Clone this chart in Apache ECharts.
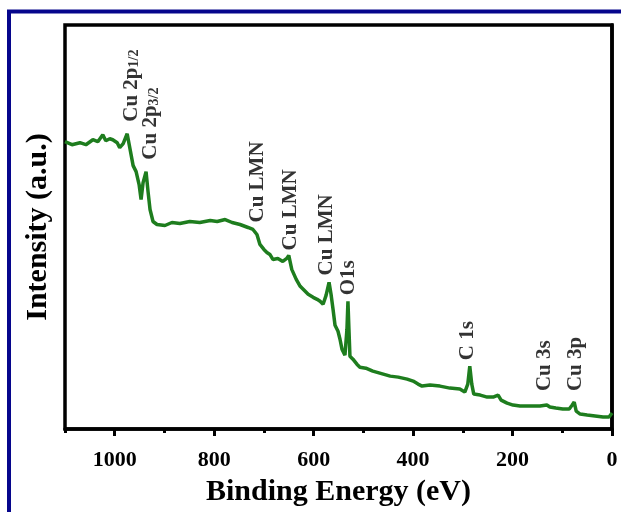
<!DOCTYPE html>
<html>
<head>
<meta charset="utf-8">
<script src="https://cdn.jsdelivr.net/npm/echarts@6/dist/echarts.min.js"></script>
<style>
  html, body { margin: 0; padding: 0; background: #fff; }
  #chart { width: 621px; height: 512px; }
</style>
</head>
<body>
<div id="chart"></div>
<script>
// binding energy (eV) and intensity (a.u.)
const energy = [1100, 1086, 1070, 1058, 1044, 1034, 1024, 1018, 1010, 1004, 995, 990, 983, 975, 969, 963, 957, 951, 947, 943,
  937, 933, 929, 923, 915, 899, 885, 869, 849, 829, 808, 794, 778, 764, 748, 732, 722, 714, 708, 700,
  694, 688, 682, 672, 662, 654, 650, 644, 635, 627, 619, 611, 601, 593, 587, 581, 575, 569, 565, 561,
  557, 551, 547, 543, 537, 533, 531, 529, 527, 521, 513, 507, 495, 481, 467, 446, 430, 412, 400, 390,
  382, 366, 346, 326, 306, 296, 290, 286, 282, 278, 265, 251, 239, 229, 223, 211, 199, 185, 165, 145,
  131, 125, 113, 99, 86, 80, 76, 72, 64, 50, 34, 18, 6, 0];
const intensity = [288, 285, 287, 285, 290, 288, 295, 289, 291, 290, 287, 282, 286, 296, 280, 264, 258, 245, 230, 247,
  258, 238, 220, 208, 205, 204, 207, 206, 208, 207, 209, 208, 210, 207, 205, 202, 200, 195, 185, 180,
  177, 175, 170, 171, 168, 171, 174, 160, 150, 143, 139, 135, 132, 130, 128, 125, 134, 147, 135, 120,
  104, 98, 90, 80, 74, 100, 128, 100, 73, 70, 65, 62, 61, 58, 56, 53, 52, 50, 48, 45,
  43, 44, 43, 41, 40, 37, 45, 63, 45, 35, 34, 32, 32, 34, 29, 26, 24, 23, 23, 23,
  24, 22, 21, 20, 20, 24, 27, 18, 15, 14, 13, 12, 12, 16];

// peak assignments: name, energy and height of the bottom of each label
const peakNames = ['Cu 2p{s|1/2}', 'Cu 2p{s|3/2}', 'Cu LMN', 'Cu LMN', 'Cu LMN', 'O1s', 'C 1s', 'Cu 3s', 'Cu 3p'];
const peakEnergy = [967, 927, 712, 646, 573, 529, 290, 135, 74];
const peakLabelY = [308, 270, 207, 179, 154, 134, 69, 38, 38];

const xMajorTicks = 200;
const xMinorTicks = 100;

const font = 'Liberation Serif';

const chart = echarts.init(document.getElementById('chart'));

const lineData = energy.map((e, i) => [e, intensity[i]]);
const labelData = peakNames.map((n, i) => ({ name: n, value: [peakEnergy[i], peakLabelY[i]] }));

chart.setOption({
  animation: false,
  backgroundColor: '#fff',
  graphic: [{
    type: 'polyline',
    shape: { points: [[9, 512], [9, 11.5], [621, 11.5]] },
    style: { stroke: '#06068c', lineWidth: 4, fill: null }
  }],
  grid: {
    left: 65, right: 9, top: 25, bottom: 82,
    show: true, borderColor: '#000', borderWidth: 3.5
  },
  xAxis: [{
    type: 'value',
    inverse: true,
    min: 0, max: 1100, interval: xMajorTicks,
    position: 'bottom',
    name: 'Binding Energy (eV)',
    nameLocation: 'middle',
    nameGap: 48,
    nameTextStyle: { fontFamily: font, fontWeight: 'bold', fontSize: 30, color: '#000' },
    axisLine: { show: true, lineStyle: { color: '#000', width: 3.5 } },
    axisTick: { show: true, length: 7, lineStyle: { color: '#000', width: 3 } },
    axisLabel: {
      fontFamily: font, fontWeight: 'bold', fontSize: 22, color: '#000', margin: 20,
      showMaxLabel: false, formatter: v => String(v)
    },
    splitLine: { show: false }
  }, {
    type: 'value',
    inverse: true,
    min: 0, max: 1100, interval: xMinorTicks,
    position: 'bottom',
    axisLine: { show: false },
    axisTick: { show: true, length: 4, lineStyle: { color: '#000', width: 3 } },
    axisLabel: { show: false },
    splitLine: { show: false }
  }],
  yAxis: {
    type: 'value',
    min: 0, max: 405,
    name: 'Intensity (a.u.)',
    nameLocation: 'middle',
    nameGap: 12,
    nameTextStyle: { fontFamily: font, fontWeight: 'bold', fontSize: 30, color: '#000' },
    axisLine: { show: true, lineStyle: { color: '#000', width: 3.5 } },
    axisTick: { show: false },
    axisLabel: { show: false },
    splitLine: { show: false }
  },
  series: [{
    type: 'line',
    data: lineData,
    showSymbol: false,
    lineStyle: { color: '#1e7d1e', width: 3.5 },
    z: 3
  }, {
    type: 'scatter',
    data: labelData,
    symbolSize: 0,
    silent: true,
    label: {
      show: true,
      formatter: p => p.name,
      position: 'inside',
      rotate: 90,
      align: 'left',
      verticalAlign: 'middle',
      fontFamily: font,
      fontWeight: 'bold',
      fontSize: 21,
      color: '#000',
      rich: {
        s: { fontFamily: font, fontWeight: 'bold', fontSize: 14, color: '#000', verticalAlign: 'bottom', padding: [6, 0, 0, 0] }
      }
    },
    z: 4
  }]
});
</script>
</body>
</html>
